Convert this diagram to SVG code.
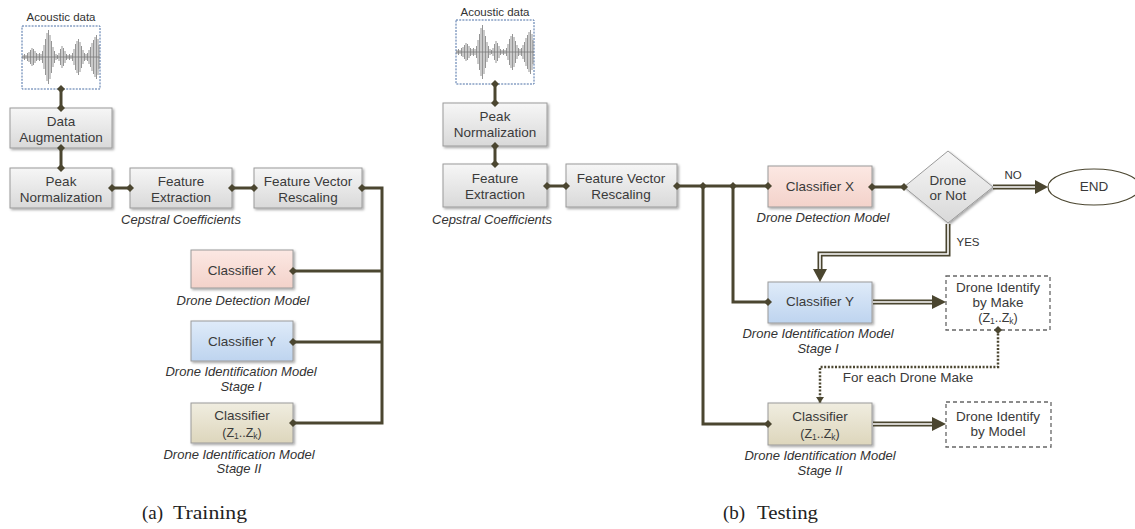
<svg xmlns="http://www.w3.org/2000/svg" xmlns:xlink="http://www.w3.org/1999/xlink" width="1135" height="529" viewBox="0 0 1135 529">
<style>
.bx{stroke:#9a9a9a;stroke-width:1;filter:url(#sh)}
.g{fill:url(#gg)}.p{fill:url(#gp)}.b{fill:url(#gb)}.y{fill:url(#gy)}
.t{font-family:"Liberation Sans",Arial,sans-serif;font-size:13.5px;fill:#3a3a3a;text-anchor:middle}
.s{font-size:12.5px}
.i{font-family:"Liberation Sans",Arial,sans-serif;font-size:13px;font-style:italic;fill:#333;text-anchor:middle}
.sm{font-family:"Liberation Sans",Arial,sans-serif;font-size:11.5px;fill:#333;text-anchor:middle}
.cap{font-family:"Liberation Serif","Times New Roman",serif;font-size:19px;fill:#222}
.c{fill:none;stroke:#4b4630;stroke-width:3}
.d1{fill:none;stroke:#4b4630;stroke-width:5}
.d2{fill:none;stroke:#fff;stroke-width:1.6}
.ah{fill:#4b4630}
.dot{fill:none;stroke:#4b4630;stroke-width:2.5;stroke-dasharray:2 1.6}
.ac{fill:#fff;stroke:#4a6fa5;stroke-width:1;stroke-dasharray:2 1.2}
.dash{fill:#fff;stroke:#666;stroke-width:1.3;stroke-dasharray:4 3}
.wv{fill:none;stroke:#7a7a7a;stroke-width:0.8}
</style>
<defs>
<linearGradient id="gg" x1="0" y1="0" x2="0" y2="1"><stop offset="0" stop-color="#f6f6f6"/><stop offset="1" stop-color="#d9d9d9"/></linearGradient>
<linearGradient id="gp" x1="0" y1="0" x2="0" y2="1"><stop offset="0" stop-color="#fce8e3"/><stop offset="1" stop-color="#f3d2ca"/></linearGradient>
<linearGradient id="gb" x1="0" y1="0" x2="0" y2="1"><stop offset="0" stop-color="#dfebf9"/><stop offset="1" stop-color="#bed4ef"/></linearGradient>
<linearGradient id="gy" x1="0" y1="0" x2="0" y2="1"><stop offset="0" stop-color="#f0ede0"/><stop offset="1" stop-color="#ddd6bc"/></linearGradient>
<filter id="sh" x="-10%" y="-10%" width="130%" height="140%"><feDropShadow dx="1.5" dy="1.5" stdDeviation="1" flood-color="#000" flood-opacity="0.35"/></filter>
<marker id="dm" viewBox="-4 -4 8 8" markerWidth="8" markerHeight="8" markerUnits="userSpaceOnUse" orient="auto"><path d="M0-4L4 0 0 4-4 0z" fill="#4b4630"/></marker>
<marker id="sa" viewBox="0 -4 6 8" refX="6" markerWidth="6" markerHeight="8" markerUnits="userSpaceOnUse" orient="auto"><path d="M0-4L6 0 0 4z" fill="#4b4630"/></marker>
<g id="wave">
<path class="wv" d="M0 31H78"/>
<path class="wv" d="M1 29V33M2.5 28V34M4 29V33M5.5 27V35M7 26V36M8.5 24V38M10 22V40M11.5 23V39M13 25V37M14.5 27V35M16 28V34M17.5 27V35M19 28V34M20.5 25V37M22 19V43M23.5 13V49M25 7V55M26.5 4V58M28 9V53M29.5 15V47M31 21V41M32.5 25V37M34 28V34M35.5 29V33M37 27V35M38.5 23V39M40 20V42M41.5 22V40M43 25V37M44.5 28V34M46 29V33M47.5 28V34M49 29V33M50.5 27V35M52 23V39M53.5 18V44M55 15V47M56.5 13V49M58 16V46M59.5 20V42M61 24V38M62.5 27V35M64 28V34M65.5 27V35M67 24V38M68.5 21V41M70 17V45M71.5 14V48M73 11V51M74.5 9V53M76 13V49M77 19V43"/>
</g>
</defs>
<rect width="1135" height="529" fill="#fff"/>

<g id="acoustic-a"><text class="sm" x="61" y="21">Acoustic data</text><rect class="ac" x="22" y="26" width="78" height="63"/><use xlink:href="#wave" x="22" y="26"/></g>
<g id="aug-a"><rect class="bx g" x="10" y="108" width="102" height="40"/><text class="t" x="61" y="126">Data</text><text class="t" x="61" y="142">Augmentation</text></g>
<g id="peak-a"><rect class="bx g" x="10" y="168" width="102" height="40"/><text class="t" x="61" y="186">Peak</text><text class="t" x="61" y="202">Normalization</text></g>
<g id="feat-a"><rect class="bx g" x="130" y="168" width="102" height="40"/><text class="t" x="181" y="186">Feature</text><text class="t" x="181" y="202">Extraction</text><text class="i" x="181" y="224">Cepstral Coefficients</text></g>
<g id="fvr-a"><rect class="bx g" x="254" y="168" width="108" height="40"/><text class="t" x="308" y="186">Feature Vector</text><text class="t" x="308" y="202">Rescaling</text></g>
<g id="cx-a"><rect class="bx p" x="191" y="250" width="102" height="38"/><text class="t" x="242" y="275">Classifier X</text><text class="i" x="243" y="305">Drone Detection Model</text></g>
<g id="cy-a"><rect class="bx b" x="191" y="321" width="102" height="40"/><text class="t" x="242" y="346">Classifier Y</text><text class="i" x="241" y="376">Drone Identification Model</text><text class="i" x="241" y="391">Stage I</text></g>
<g id="cz-a"><rect class="bx y" x="191" y="403" width="102" height="40"/><text class="t" x="242" y="420">Classifier</text><text class="t s" x="242" y="437">(Z<tspan font-size="8.5" dy="2">1</tspan><tspan dy="-2">..Z</tspan><tspan font-size="8.5" dy="2">k</tspan><tspan dy="-2">)</tspan></text><text class="i" x="239" y="459">Drone Identification Model</text><text class="i" x="239" y="473">Stage II</text></g>

<g id="acoustic-b"><text class="sm" x="495" y="16">Acoustic data</text><rect class="ac" x="456" y="20" width="78" height="64"/><use xlink:href="#wave" x="456" y="21"/></g>
<g id="peak-b"><rect class="bx g" x="443" y="103" width="104" height="43"/><text class="t" x="495" y="121">Peak</text><text class="t" x="495" y="137">Normalization</text></g>
<g id="feat-b"><rect class="bx g" x="443" y="164" width="104" height="43"/><text class="t" x="495" y="183">Feature</text><text class="t" x="495" y="199">Extraction</text><text class="i" x="492" y="224">Cepstral Coefficients</text></g>
<g id="fvr-b"><rect class="bx g" x="566" y="164" width="111" height="43"/><text class="t" x="621" y="183">Feature Vector</text><text class="t" x="621" y="199">Rescaling</text></g>
<g id="cx-b"><rect class="bx p" x="768" y="166" width="104" height="41"/><text class="t" x="820" y="191">Classifier X</text><text class="i" x="823" y="222">Drone Detection Model</text></g>
<g id="decision"><path class="bx g" d="M948 151L993 187 948 223 904 187z"/><text class="t" x="948" y="185">Drone</text><text class="t" x="948" y="200">or Not</text></g>
<g id="no-label"><text class="sm" x="1013" y="179" font-size="12.5">NO</text></g>
<g id="yes-label"><text class="sm" x="968" y="246" font-size="12.5">YES</text></g>
<g id="end"><ellipse cx="1094" cy="187" rx="46" ry="18" fill="#fff" stroke="#4b4630" stroke-width="1.2"/><text class="t" x="1094" y="191">END</text></g>
<g id="cy-b"><rect class="bx b" x="768" y="282" width="104" height="41"/><text class="t" x="820" y="306">Classifier Y</text><text class="i" x="818" y="338">Drone Identification Model</text><text class="i" x="818" y="353">Stage I</text></g>
<g id="make"><rect class="dash" x="946" y="276" width="104" height="54"/><text class="t" x="998" y="292">Drone Identify</text><text class="t" x="998" y="307">by Make</text><text class="t s" x="998" y="322">(Z<tspan font-size="8.5" dy="2">1</tspan><tspan dy="-2">..Z</tspan><tspan font-size="8.5" dy="2">k</tspan><tspan dy="-2">)</tspan></text></g>
<g id="for-each"><text class="t" x="908" y="382" font-size="12.5">For each Drone Make</text></g>
<g id="cz-b"><rect class="bx y" x="768" y="403" width="104" height="42"/><text class="t" x="820" y="421">Classifier</text><text class="t s" x="820" y="438">(Z<tspan font-size="8.5" dy="2">1</tspan><tspan dy="-2">..Z</tspan><tspan font-size="8.5" dy="2">k</tspan><tspan dy="-2">)</tspan></text><text class="i" x="820" y="460">Drone Identification Model</text><text class="i" x="820" y="475">Stage II</text></g>
<g id="model"><rect class="dash" x="946" y="402" width="105" height="45"/><text class="t" x="998" y="421">Drone Identify</text><text class="t" x="998" y="436">by Model</text></g>

<g id="connectors">
<path class="c" d="M61 89V108" marker-start="url(#dm)" marker-end="url(#dm)"/>
<path class="c" d="M61 148V168" marker-start="url(#dm)" marker-end="url(#dm)"/>
<path class="c" d="M112 188H130" marker-start="url(#dm)" marker-end="url(#dm)"/>
<path class="c" d="M232 188H254" marker-start="url(#dm)" marker-end="url(#dm)"/>
<path class="c" d="M362 188H382V423H293" marker-start="url(#dm)" marker-end="url(#dm)"/>
<path class="c" d="M382 271H293" marker-end="url(#dm)"/>
<path class="c" d="M382 342H293" marker-end="url(#dm)"/>

<path class="c" d="M495 84V103" marker-start="url(#dm)" marker-end="url(#dm)"/>
<path class="c" d="M495 146V164" marker-start="url(#dm)" marker-end="url(#dm)"/>
<path class="c" d="M547 186H566" marker-start="url(#dm)" marker-end="url(#dm)"/>
<path class="c" d="M677 186H768" marker-start="url(#dm)" marker-end="url(#dm)"/>
<path class="c" d="M703 186V424H768" marker-start="url(#dm)" marker-end="url(#dm)"/>
<path class="c" d="M733 186V302H768" marker-start="url(#dm)" marker-end="url(#dm)"/>
<path class="c" d="M872 187H904" marker-start="url(#dm)" marker-end="url(#dm)"/>

<path class="d1" d="M993 187H1036"/><path class="d2" d="M993 187H1037"/>
<path class="ah" d="M1035 180L1048 187 1035 194z"/>
<path class="d1" d="M948 224V254H820V270"/><path class="d2" d="M948 224V254H820V271"/>
<path class="ah" d="M813 269L820 282 827 269z"/>
<path class="d1" d="M873 302H933"/><path class="d2" d="M873 302H934"/>
<path class="ah" d="M932 295L946 302 932 309z"/>
<path class="d1" d="M873 424H933"/><path class="d2" d="M873 424H934"/>
<path class="ah" d="M932 417L946 424 932 431z"/>
<path class="dot" d="M998 330V367H820V403" marker-start="url(#dm)" marker-end="url(#sa)"/>
</g>

<g id="captions"><text class="cap" x="142" y="519">(a)<tspan x="173" textLength="74" lengthAdjust="spacingAndGlyphs">Training</tspan></text><text class="cap" x="723" y="519">(b)<tspan x="757" textLength="61" lengthAdjust="spacingAndGlyphs">Testing</tspan></text></g>
</svg>
